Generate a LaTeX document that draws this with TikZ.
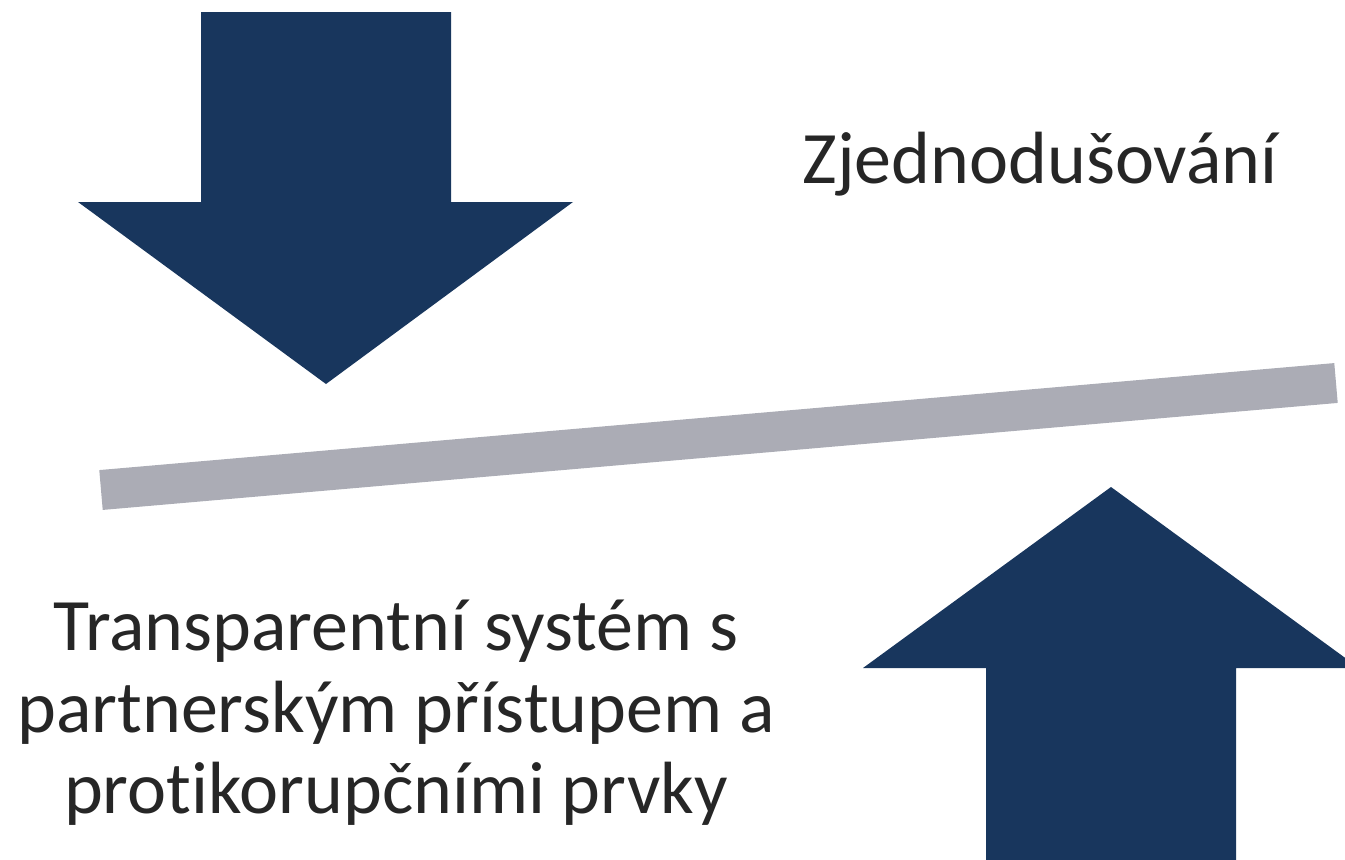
\documentclass[tikz,border=0pt]{standalone}
\usepackage{fontspec}
\setmainfont{Carlito}[Ligatures={NoCommon,NoRare,NoContextual}]
\definecolor{navy}{RGB}{24,54,93}
\definecolor{bargray}{RGB}{171,172,181}
\definecolor{txt}{RGB}{38,38,38}
\begin{document}
\begin{tikzpicture}[x=1pt,y=-1pt,
  arrowfill/.style={fill=navy},
  lbl/.style={text=txt,font=\fontsize{74}{80}\selectfont,inner sep=0pt,align=center}]
\useasboundingbox (0,0) rectangle (1345,860);
\clip (0,0) rectangle (1345,860);
% down arrow
\fill[arrowfill] (201,12) -- (451,12) -- (451,202) -- (573,202) -- (326,384) -- (78,202) -- (201,202) -- cycle;
% up arrow
\fill[arrowfill] (1111,487) -- (1359,668) -- (1236,668) -- (1236,870) -- (986,870) -- (986,668) -- (863,668) -- cycle;
% bar
\draw[bargray,line width=40pt] (101,490) -- (1336,383);
% texts
\node[lbl,anchor=base] (t1) at (1040,183) {Zjednodušování};
\node[lbl,anchor=base] (t2) at (396,650) {Transparentní systém s};
\node[lbl,anchor=base] (t3) at (396,732) {partnerským přístupem a};
\node[lbl,anchor=base] (t4) at (396,813) {protikorupčními prvky};
\end{tikzpicture}
\end{document}
